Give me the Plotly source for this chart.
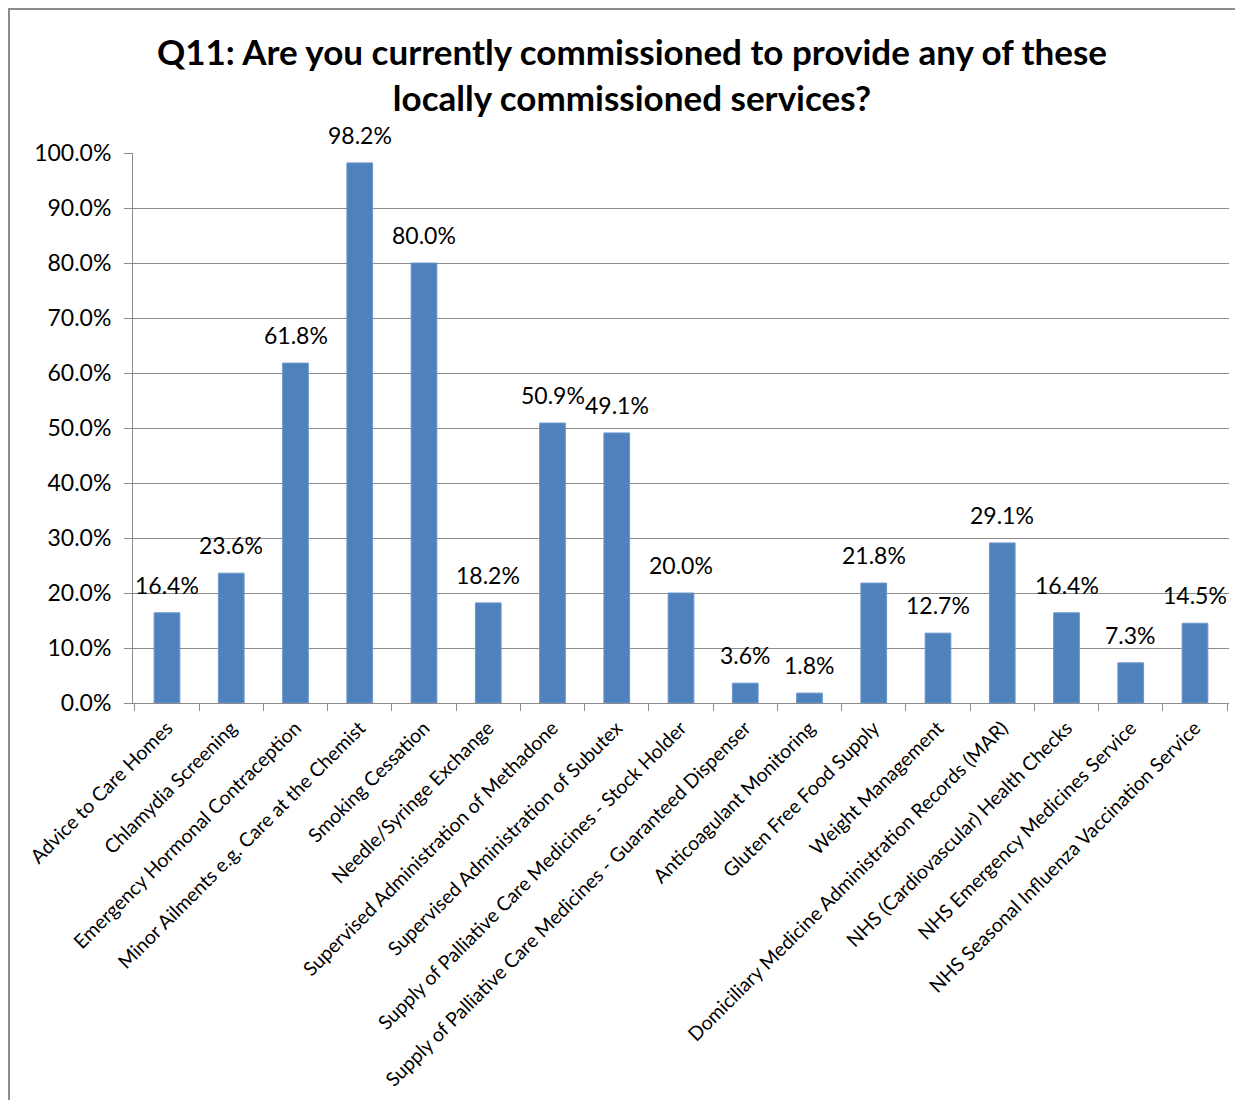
import plotly.graph_objects as go

services = [
    'Advice to Care Homes',
    'Chlamydia Screening',
    'Emergency Hormonal Contraception',
    'Minor Ailments e.g. Care at the Chemist',
    'Smoking Cessation',
    'Needle/Syringe Exchange',
    'Supervised Administration of Methadone',
    'Supervised Administration of Subutex',
    'Supply of Palliative Care Medicines - Stock Holder',
    'Supply of Palliative Care Medicines - Guaranteed Dispenser',
    'Anticoagulant Monitoring',
    'Gluten Free Food Supply',
    'Weight Management',
    'Domiciliary Medicine Administration Records (MAR)',
    'NHS (Cardiovascular) Health Checks',
    'NHS Emergency Medicines Service',
    'NHS Seasonal Influenza Vaccination Service',
]
share = [0.164, 0.236, 0.618, 0.982, 0.800, 0.182, 0.509, 0.491, 0.200,
         0.036, 0.018, 0.218, 0.127, 0.291, 0.164, 0.073, 0.145]

# page body has an 8px margin, so the figure sits at (8, 8)
W, H = 1227, 1092
L, R, T, B = 125, 6, 145, 397
pw, ph = W - L - R, H - T - B
GRAY = '#8C8C8C'


def px_x(px):
    return (px - L) / pw


def px_y(py):
    return (H - B - py) / ph


fig = go.Figure(
    go.Bar(
        x=services,
        y=share,
        marker=dict(color='#4F81BD', line=dict(color='#6A96CC', width=1)),
        width=0.4,
        hoverinfo='x+y',
    )
)

for name, v in zip(services, share):
    fig.add_annotation(
        x=name, y=v, text=f'{v:.1%}', showarrow=False,
        yanchor='bottom', yshift=12,
        font=dict(family='Lato', size=23, color='black'),
    )

fig.update_layout(
    width=W,
    height=H,
    margin=dict(l=L, r=R, t=T, b=B),
    paper_bgcolor='white',
    plot_bgcolor='white',
    showlegend=False,
    font=dict(family='Lato', color='black'),
    title=dict(
        text='<b>Q11: Are you currently commissioned to provide any of these<br>locally commissioned services?</b>',
        x=624 / W,
        xanchor='center',
        y=1 - 57 / H,
        yanchor='middle',
        font=dict(family='Lato', size=35, color='black'),
    ),
    shapes=[
        dict(type='line', xref='paper', yref='paper',
             x0=px_x(0), x1=px_x(W), y0=px_y(1), y1=px_y(1),
             line=dict(color=GRAY, width=2)),
        dict(type='line', xref='paper', yref='paper',
             x0=px_x(1), x1=px_x(1), y0=px_y(0), y1=px_y(H),
             line=dict(color=GRAY, width=2)),
    ],
)

fig.update_yaxes(
    range=[0, 1],
    dtick=0.1,
    tickformat='.1%',
    tickfont=dict(family='Lato', size=23),
    showgrid=True,
    gridcolor=GRAY,
    gridwidth=1,
    showline=True,
    linecolor=GRAY,
    ticks='outside',
    ticklen=8,
    tickcolor=GRAY,
    ticklabelstandoff=8,
    zeroline=False,
)
fig.update_xaxes(
    tickangle=-45,
    tickfont=dict(family='Lato', size=19.5),
    showline=True,
    linecolor=GRAY,
    ticks='outside',
    tickson='boundaries',
    ticklen=7,
    tickcolor=GRAY,
    ticklabelstandoff=5,
)

fig.write_html('out.html')
